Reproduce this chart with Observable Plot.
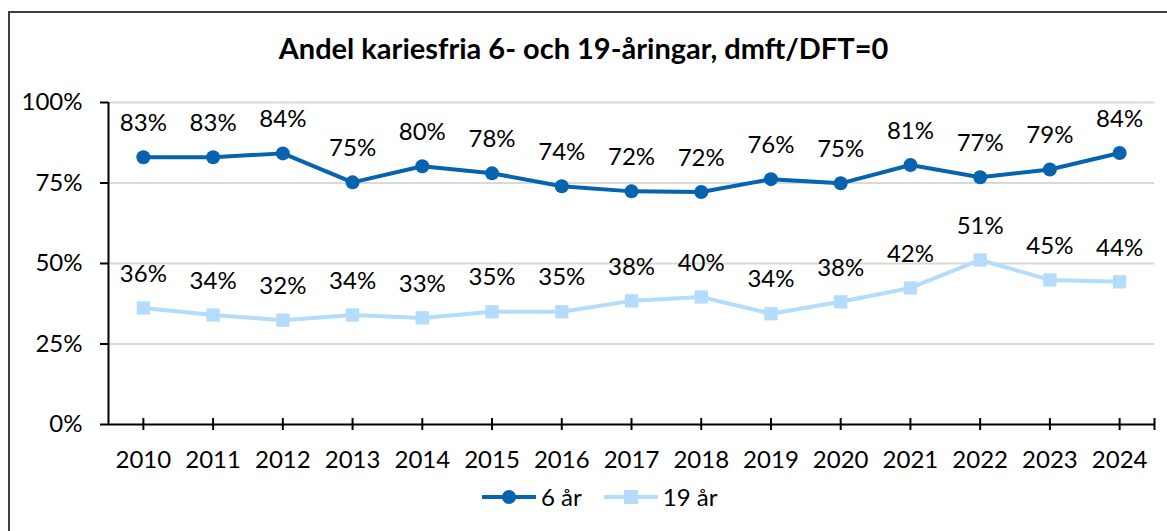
<!DOCTYPE html>
<html>
<head>
<meta charset="utf-8">
<script src="https://cdn.jsdelivr.net/npm/d3@7"></script>
<script src="https://cdn.jsdelivr.net/npm/@observablehq/plot@0.6"></script>
<style>
  html, body { margin: 0; padding: 0; background: #fff; }
  #wrap { position: relative; width: 1167px; height: 531px; overflow: hidden; font-family: Lato, "Open Sans", sans-serif; }
  #border { position: absolute; left: 8px; top: 11px; width: 1170px; height: 540px; border-left: 2px solid #3f3f3f; border-top: 2px solid #3f3f3f; box-sizing: border-box; }
  #title { position: absolute; left: 0; width: 1167px; top: 29px; text-align: center; font-weight: bold; font-size: 29px; color: #000; line-height: 38px; }
  #chart { position: absolute; left: 0; top: 80px; }
  #legend { position: absolute; left: 482px; top: 482px; display: flex; align-items: center; font-size: 24px; color: #000; }
  .item { display: flex; align-items: center; margin-right: 22px; }
  .item span { margin-left: 5px; }
</style>
</head>
<body>
<div id="wrap">
  <div id="border"></div>
  <div id="title">Andel kariesfria 6- och 19-åringar, dmft/DFT=0</div>
  <div id="chart"></div>
  <div id="legend"></div>
</div>
<script>
const years = [2010, 2011, 2012, 2013, 2014, 2015, 2016, 2017, 2018, 2019, 2020, 2021, 2022, 2023, 2024];
const age6 = [0.830, 0.830, 0.842, 0.752, 0.802, 0.780, 0.740, 0.724, 0.722, 0.762, 0.749, 0.806, 0.768, 0.792, 0.843];
const age19 = [0.362, 0.340, 0.324, 0.340, 0.331, 0.350, 0.350, 0.384, 0.396, 0.344, 0.381, 0.424, 0.511, 0.449, 0.443];
const seriesNames = ["6 år", "19 år"];
const seriesColors = ["#0563b0", "#b3dcfd"];
const yTicks = [0, 0.25, 0.5, 0.75, 1];

const data = [];
years.forEach((yr, i) => {
  data.push({year: yr, value: age6[i], series: seriesNames[0]});
  data.push({year: yr, value: age19[i], series: seriesNames[1]});
});
const d6 = data.filter(d => d.series === seriesNames[0]);
const d19 = data.filter(d => d.series === seriesNames[1]);
const pct = d => Math.round(d.value * 100) + "%";
const xDomain = [years[0] - 0.5, years[years.length - 1] + 0.5];

const plot = Plot.plot({
  width: 1167,
  height: 400,
  marginLeft: 108,
  marginRight: 13,
  marginTop: 22,
  marginBottom: 56,
  style: {fontFamily: "Lato, 'Open Sans', sans-serif", fontSize: "24px", color: "#000", background: "transparent"},
  x: {type: "linear", domain: xDomain, label: null},
  y: {domain: [0, 1], label: null},
  marks: [
    Plot.gridY(yTicks.slice(1), {stroke: "#d9d9d9", strokeOpacity: 1, strokeWidth: 2}),
    Plot.axisY(yTicks, {tickFormat: d3.format(".0%"), tickSize: 8, tickPadding: 18, fontSize: 24, stroke: "#000", strokeWidth: 2, label: null}),
    Plot.axisX(years, {tickFormat: "d", tickSize: 0, tickPadding: 26, fontSize: 24, label: null}),
    Plot.ruleX([...years, xDomain[1]], {x: d => d, y1: 0, y2: 0, insetTop: -6, insetBottom: -6, stroke: "#000", strokeWidth: 2}),
    Plot.ruleY([0], {stroke: "#000", strokeWidth: 2}),
    Plot.ruleX([xDomain[0]], {y1: 0, y2: 1, stroke: "#000", strokeWidth: 2}),
    Plot.line(d19, {x: "year", y: "value", stroke: seriesColors[1], strokeWidth: 4}),
    Plot.dot(d19, {x: "year", y: "value", symbol: "square", r: 7.5, fill: seriesColors[1]}),
    Plot.line(d6, {x: "year", y: "value", stroke: seriesColors[0], strokeWidth: 4}),
    Plot.dot(d6, {x: "year", y: "value", r: 7, fill: seriesColors[0]}),
    Plot.text(d6, {x: "year", y: "value", text: pct, dy: -34, fontSize: 24, fill: "#000"}),
    Plot.text(d19, {x: "year", y: "value", text: pct, dy: -34, fontSize: 24, fill: "#000"})
  ]
});
document.getElementById("chart").appendChild(plot);

// Legend
const legend = document.getElementById("legend");
seriesNames.forEach((name, i) => {
  const item = document.createElement("div");
  item.className = "item";
  const svg = d3.create("svg").attr("width", 54).attr("height", 20);
  svg.append("line").attr("x1", 1).attr("x2", 53).attr("y1", 10).attr("y2", 10)
    .attr("stroke", seriesColors[i]).attr("stroke-width", 4).attr("stroke-linecap", "round");
  if (i === 0) {
    svg.append("circle").attr("cx", 27).attr("cy", 10).attr("r", 7).attr("fill", seriesColors[i]);
  } else {
    svg.append("rect").attr("x", 20).attr("y", 3).attr("width", 14).attr("height", 14).attr("fill", seriesColors[i]);
  }
  item.appendChild(svg.node());
  const s = document.createElement("span");
  s.textContent = name;
  item.appendChild(s);
  legend.appendChild(item);
});
</script>
</body>
</html>
